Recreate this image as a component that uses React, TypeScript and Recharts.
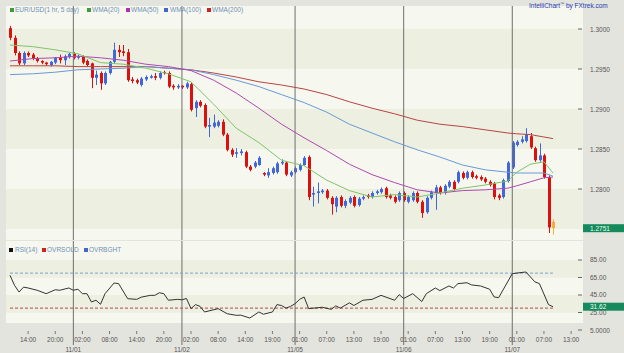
import {
  ComposedChart,
  Bar,
  Line,
  XAxis,
  YAxis,
  ReferenceLine,
  ReferenceArea,
} from 'recharts';

// hourly candles, 10/31 10:00 -> 11/07 10:00 (index = hour slot)
const opens = [
  1.3001, 1.2989, 1.2970, 1.2957, 1.2970, 1.2968, 1.2963, 1.2960, 1.2958, 1.2955,
  1.2958, 1.2964, 1.2961, 1.2965, 1.2969, 1.2964, 1.2966, 1.2960, 1.2957, 1.2939,
  1.2945, 1.2932, 1.2945, 1.2959, 1.2974, 1.2972, 1.2971, 1.2937, 1.2936, 1.2930,
  1.2937, 1.2939, 1.2941, 1.2939, 1.2946, 1.2945, 1.2929, 1.2927, 1.2929, 1.2927,
  1.2931, 1.2901, 1.2909, 1.2905, 1.2878, 1.2878, 1.2879, 1.2884, 1.2868, 1.2849,
  1.2844, 1.2845, 1.2846, 1.2828, 1.2828, 1.2830, 1.2820, 1.2817, 1.2820, 1.2821,
  1.2832, 1.2833, 1.2817, 1.2821, 1.2824, 1.2830, 1.2840, 1.2793, 1.2795, 1.2796,
  1.2798, 1.2789, 1.2778, 1.2790, 1.2779, 1.2783, 1.2790, 1.2780, 1.2788, 1.2792,
  1.2790, 1.2795, 1.2796, 1.2801, 1.2792, 1.2790, 1.2786, 1.2795, 1.2784, 1.2786,
  1.2795, 1.2784, 1.2771, 1.2789, 1.2795, 1.2802, 1.2795, 1.2803, 1.2809, 1.2809,
  1.2820, 1.2814, 1.2821, 1.2816, 1.2815, 1.2813, 1.2809, 1.2807, 1.2792, 1.2790,
  1.2810, 1.2827, 1.2855, 1.2859, 1.2860, 1.2866, 1.2851, 1.2836, 1.2842, 1.2815,
  1.2759,
];
const highs = [
  1.3004, 1.2992, 1.2972, 1.2972, 1.2972, 1.2970, 1.2965, 1.2961, 1.2959, 1.2960,
  1.2965, 1.2968, 1.2968, 1.2970, 1.2971, 1.2968, 1.2967, 1.2962, 1.2958, 1.2948,
  1.2947, 1.2947, 1.2960, 1.2983, 1.2980, 1.2980, 1.2975, 1.2940, 1.2938, 1.2940,
  1.2942, 1.2943, 1.2945, 1.2947, 1.2948, 1.2947, 1.2931, 1.2931, 1.2930, 1.2934,
  1.2933, 1.2911, 1.2911, 1.2907, 1.2889, 1.2893, 1.2886, 1.2887, 1.2870, 1.2851,
  1.2851, 1.2850, 1.2848, 1.2830, 1.2835, 1.2841, 1.2821, 1.2826, 1.2828, 1.2834,
  1.2837, 1.2835, 1.2823, 1.2828, 1.2832, 1.2841, 1.2842, 1.2803, 1.2808, 1.2800,
  1.2800, 1.2791, 1.2791, 1.2792, 1.2787, 1.2791, 1.2792, 1.2790, 1.2792, 1.2794,
  1.2797, 1.2799, 1.2802, 1.2803, 1.2794, 1.2792, 1.2797, 1.2797, 1.2792, 1.2797,
  1.2797, 1.2786, 1.2791, 1.2798, 1.2805, 1.2804, 1.2806, 1.2811, 1.2811, 1.2823,
  1.2822, 1.2823, 1.2823, 1.2818, 1.2817, 1.2815, 1.2811, 1.2809, 1.2794, 1.2813,
  1.2835, 1.2860, 1.2861, 1.2866, 1.2876, 1.2870, 1.2853, 1.2857, 1.2844, 1.2817,
  1.2762,
];
const lows = [
  1.2986, 1.2967, 1.2955, 1.2955, 1.2965, 1.2961, 1.2958, 1.2956, 1.2954, 1.2953,
  1.2956, 1.2957, 1.2955, 1.2963, 1.2962, 1.2962, 1.2956, 1.2953, 1.2926, 1.2930,
  1.2924, 1.2930, 1.2943, 1.2957, 1.2965, 1.2966, 1.2934, 1.2932, 1.2931, 1.2928,
  1.2935, 1.2938, 1.2936, 1.2937, 1.2943, 1.2926, 1.2924, 1.2925, 1.2925, 1.2925,
  1.2897, 1.2890, 1.2902, 1.2876, 1.2865, 1.2876, 1.2877, 1.2866, 1.2847, 1.2840,
  1.2839, 1.2842, 1.2826, 1.2822, 1.2826, 1.2829, 1.2816, 1.2814, 1.2818, 1.2819,
  1.2830, 1.2816, 1.2815, 1.2819, 1.2822, 1.2829, 1.2786, 1.2778, 1.2782, 1.2794,
  1.2787, 1.2768, 1.2771, 1.2777, 1.2776, 1.2781, 1.2777, 1.2778, 1.2786, 1.2788,
  1.2788, 1.2793, 1.2794, 1.2788, 1.2787, 1.2782, 1.2784, 1.2784, 1.2782, 1.2784,
  1.2782, 1.2764, 1.2769, 1.2787, 1.2774, 1.2793, 1.2793, 1.2801, 1.2798, 1.2807,
  1.2812, 1.2812, 1.2813, 1.2812, 1.2810, 1.2807, 1.2803, 1.2787, 1.2786, 1.2788,
  1.2808, 1.2825, 1.2853, 1.2857, 1.2858, 1.2850, 1.2834, 1.2834, 1.2813, 1.2745,
  1.2743,
];
const closes = [
  1.2989, 1.2970, 1.2957, 1.2970, 1.2967, 1.2963, 1.2960, 1.2958, 1.2956, 1.2959,
  1.2964, 1.2961, 1.2966, 1.2969, 1.2964, 1.2966, 1.2958, 1.2955, 1.2939, 1.2943,
  1.2932, 1.2945, 1.2959, 1.2974, 1.2971, 1.2970, 1.2936, 1.2935, 1.2933, 1.2938,
  1.2940, 1.2941, 1.2939, 1.2945, 1.2945, 1.2928, 1.2927, 1.2929, 1.2927, 1.2932,
  1.2899, 1.2909, 1.2904, 1.2878, 1.2880, 1.2883, 1.2884, 1.2868, 1.2849, 1.2843,
  1.2846, 1.2847, 1.2828, 1.2824, 1.2833, 1.2839, 1.2818, 1.2821, 1.2826, 1.2832,
  1.2834, 1.2818, 1.2821, 1.2826, 1.2830, 1.2839, 1.2790, 1.2795, 1.2797, 1.2798,
  1.2789, 1.2781, 1.2789, 1.2779, 1.2785, 1.2789, 1.2779, 1.2788, 1.2790, 1.2790,
  1.2795, 1.2797, 1.2800, 1.2790, 1.2789, 1.2784, 1.2795, 1.2786, 1.2790, 1.2795,
  1.2784, 1.2770, 1.2789, 1.2796, 1.2802, 1.2795, 1.2804, 1.2809, 1.2800, 1.2821,
  1.2814, 1.2821, 1.2815, 1.2814, 1.2812, 1.2809, 1.2805, 1.2790, 1.2789, 1.2811,
  1.2833, 1.2858, 1.2859, 1.2862, 1.2868, 1.2852, 1.2836, 1.2842, 1.2815, 1.2752,
  1.2751,
];

// moving averages at these candle slots
const wmaIdx = [0, 5, 10, 15, 20, 25, 30, 35, 40, 45, 50, 55, 60, 65, 70, 75, 80, 85, 90, 95, 100, 105, 110, 112, 115, 118, 120];
const wma20 = [1.2980, 1.2978, 1.2974, 1.2969, 1.2958, 1.2956, 1.2951, 1.2944, 1.2934, 1.2906, 1.2876, 1.2858, 1.2836, 1.2829, 1.2811, 1.2798, 1.2790, 1.2793, 1.2790, 1.2795, 1.2801, 1.2805, 1.2810, 1.2821, 1.2831, 1.2834, 1.2820];
const wma50 = [1.2960, 1.2963, 1.2964, 1.2966, 1.2964, 1.2961, 1.2956, 1.2953, 1.2948, 1.2936, 1.2920, 1.2901, 1.2881, 1.2864, 1.2848, 1.2831, 1.2818, 1.2808, 1.2799, 1.2795, 1.2798, 1.2799, 1.2801, 1.2804, 1.2809, 1.2814, 1.2815];
const wma100 = [1.2943, 1.2944, 1.2946, 1.2949, 1.2950, 1.2951, 1.2953, 1.2951, 1.2949, 1.2943, 1.2936, 1.2928, 1.2918, 1.2908, 1.2896, 1.2881, 1.2870, 1.2859, 1.2849, 1.2840, 1.2830, 1.2824, 1.2821, 1.2820, 1.2820, 1.2820, 1.2816];
const wma200 = [1.2954, 1.2954, 1.2954, 1.2953, 1.2953, 1.2953, 1.2953, 1.2951, 1.2949, 1.2945, 1.2940, 1.2934, 1.2930, 1.2925, 1.2918, 1.2909, 1.2901, 1.2894, 1.2886, 1.2881, 1.2878, 1.2874, 1.2870, 1.2869, 1.2868, 1.2865, 1.2863];

const rsiIdx = [0, 1, 2, 3, 4, 6, 8, 10, 11, 13, 14, 15, 16, 17, 18, 19, 20, 21, 23, 24, 26, 28, 29, 31, 32, 33, 34, 35, 37, 38, 39, 40, 41, 42, 43, 46, 48, 50, 51, 53, 55, 56, 58, 59, 60, 61, 62, 63, 64, 65, 66, 69, 71, 72, 73, 75, 76, 78, 80, 82, 85, 86, 87, 89, 91, 92, 94, 95, 97, 98, 99, 101, 102, 104, 106, 107, 108, 111, 114, 116, 117, 119, 120];
const rsiVals = [67.5, 56, 48.4, 54, 53, 50.4, 46.5, 51, 50.4, 53, 50.4, 51.6, 46.5, 46.5, 37, 39, 34.4, 46.5, 58.7, 58, 40.8, 40, 42.5, 44.6, 44.6, 47.6, 46.5, 39, 40, 39.5, 41, 29.4, 34, 32, 25.6, 29.4, 23.6, 21.8, 22, 18.7, 25.6, 23, 25.6, 34, 33, 30, 32, 35, 40, 42.7, 29.4, 31, 28.6, 32.6, 30, 36, 33, 39, 40, 44.6, 39, 45.4, 41, 46.5, 37.5, 46.5, 53, 50, 55.3, 53, 58, 59, 56.5, 55.3, 51.6, 42.7, 42, 69.4, 71.3, 60, 58, 34, 31.62];
const overbought = 70;
const oversold = 30;

const timeTicks = [4, 10, 16, 22, 28, 34, 40, 46, 52, 58, 64, 70, 76, 82, 88, 94, 100, 106, 112, 118, 124];
const timeLabels = ['14:00', '20:00', '02:00', '08:00', '14:00', '20:00', '02:00', '08:00', '14:00', '19:00', '01:00', '07:00', '13:00', '19:00', '01:00', '07:00', '13:00', '19:00', '01:00', '07:00', '13:00'];
const dayTicks = [14, 38, 63, 87, 111];
const dayLabels = ['11/01', '11/02', '11/05', '11/06', '11/07'];

const priceTicks = [1.2800, 1.2850, 1.2900, 1.2950, 1.3000];
const rsiTicks = [5, 25, 45, 65, 85];
const lastPrice = 1.2751;
const lastRsi = 31.62;

const data: any[] = opens.map((o, i) => ({
  i,
  o,
  h: highs[i],
  l: lows[i],
  c: closes[i],
  range: [lows[i], highs[i]],
}));
wmaIdx.forEach((k, j) => {
  data[k].w20 = wma20[j];
  data[k].w50 = wma50[j];
  data[k].w100 = wma100[j];
  data[k].w200 = wma200[j];
});
rsiIdx.forEach((k, j) => {
  data[k].rsi = rsiVals[j];
});
const lastIdx = data.length - 1;
data[0].ob = overbought;
data[lastIdx].ob = overbought;
data[0].os = oversold;
data[lastIdx].os = oversold;

const FONT = '"Liberation Sans", Arial, sans-serif';
const X_DOMAIN = [-0.884, 126.63];
const BAND_DARK = '#edf0e1';
const BAND_LIGHT = '#f6f8ef';
const TAG = '#168a5c';

const Candle = (props: any) => {
  const { x, y, width, height, payload } = props;
  if (x == null || !payload) return null;
  const top = Math.min(y, y + height);
  const hh = Math.abs(height);
  const { o, h, l, c, i } = payload;
  const py = (p: number) => top + ((h - p) / (h - l || 1)) * hh;
  const color = i === lastIdx ? '#f2b038' : c >= o ? '#4068dc' : '#dd1010';
  const cx = Math.round(x + width / 2) + 0.5;
  const bTop = py(Math.max(o, c));
  const bBot = py(Math.min(o, c));
  return (
    <g>
      <line x1={cx} x2={cx} y1={top} y2={top + hh} stroke={color} strokeWidth={1} />
      <rect x={cx - 1.5} y={bTop} width={3} height={Math.max(1, bBot - bTop)} fill={color} />
    </g>
  );
};

const AxisTick = (props: any) => {
  const { x, y, payload, tag, digits } = props;
  const v = payload.value;
  if (v === tag) {
    return (
      <g>
        <rect x={x} y={y - 4} width={41} height={8} fill={TAG} />
        <text x={x + 7} y={y + 2.5} fontSize={6.5} fill="#e6fff0" fontFamily={FONT}>
          {v.toFixed(digits)}
        </text>
      </g>
    );
  }
  const label = v === 5 ? '5.0000' : v.toFixed(digits);
  return (
    <g>
      <line x1={x - 5} x2={x - 1} y1={y} y2={y} stroke="#666" />
      <text x={x + 7} y={y + 2.5} fontSize={6.5} fill="#555" fontFamily={FONT}>
        {label}
      </text>
    </g>
  );
};

const TimeTick = (props: any) => {
  const { x, y, payload } = props;
  const d = dayTicks.indexOf(payload.value);
  if (d >= 0) {
    return (
      <g>
        <line x1={x} x2={x} y1={y} y2={y + 15} stroke="#6e6e6e" />
        <text x={x} y={y + 22} textAnchor="middle" fontSize={6.5} fill="#555" fontFamily={FONT}>
          {dayLabels[d]}
        </text>
      </g>
    );
  }
  const t = timeTicks.indexOf(payload.value);
  return (
    <g>
      <line x1={x} x2={x} y1={y + 1} y2={y + 4} stroke="#777" />
      <text x={x} y={y + 12} textAnchor="middle" fontSize={6.5} fill="#555" fontFamily={FONT}>
        {timeLabels[t]}
      </text>
    </g>
  );
};

const legendText = { position: 'absolute' as const, fontSize: 6.5, color: '#7090b8', lineHeight: '8px', whiteSpace: 'nowrap' as const };
const sq = (left: number, top: number, color: string) => (
  <div style={{ position: 'absolute', left, top, width: 4, height: 4, background: color }} />
);

export default function App() {
  return (
    <div style={{ position: 'absolute', left: 0, top: 0, width: 624, height: 353, background: '#e4e4de', fontFamily: FONT, overflow: 'hidden' }}>
      <div style={{ position: 'absolute', left: 0, top: 0 }}>
        <ComposedChart width={624} height={241} data={data} margin={{ top: 6, right: 0, bottom: 1, left: 6 }}>
          <ReferenceArea y1={1.3} y2={1.302875} fill={BAND_LIGHT} fillOpacity={1} stroke="none" />
          <ReferenceArea y1={1.295} y2={1.3} fill={BAND_DARK} fillOpacity={1} stroke="none" />
          <ReferenceArea y1={1.29} y2={1.295} fill={BAND_LIGHT} fillOpacity={1} stroke="none" />
          <ReferenceArea y1={1.285} y2={1.29} fill={BAND_DARK} fillOpacity={1} stroke="none" />
          <ReferenceArea y1={1.28} y2={1.285} fill={BAND_LIGHT} fillOpacity={1} stroke="none" />
          <ReferenceArea y1={1.275} y2={1.28} fill={BAND_DARK} fillOpacity={1} stroke="none" />
          <ReferenceArea y1={1.273625} y2={1.275} fill={BAND_LIGHT} fillOpacity={1} stroke="none" />
          <XAxis type="number" dataKey="i" domain={X_DOMAIN} hide allowDataOverflow />
          <YAxis
            orientation="right"
            width={41}
            domain={[1.273625, 1.302875]}
            ticks={[lastPrice, ...priceTicks]}
            interval={0}
            allowDataOverflow
            axisLine={false}
            tickSize={0}
            tickMargin={0}
            tick={<AxisTick tag={lastPrice} digits={4} />}
          />
          {dayTicks.map((d) => (
            <ReferenceLine key={d} x={d} stroke="#6e6e6e" />
          ))}
          <Line dataKey="w200" stroke="#b84444" dot={false} connectNulls strokeWidth={1} isAnimationActive={false} />
          <Line dataKey="w100" stroke="#6a98d8" dot={false} connectNulls strokeWidth={1} isAnimationActive={false} />
          <Line dataKey="w50" stroke="#b048b0" dot={false} connectNulls strokeWidth={1} isAnimationActive={false} />
          <Line dataKey="w20" stroke="#80c46a" dot={false} connectNulls strokeWidth={1} isAnimationActive={false} />
          <Bar dataKey="range" barSize={3} shape={<Candle />} isAnimationActive={false} />
        </ComposedChart>
      </div>

      <div style={{ position: 'absolute', left: 0, top: 241 }}>
        <ComposedChart width={624} height={112} data={data} margin={{ top: 0, right: 0, bottom: 0, left: 6 }}>
          <ReferenceArea y1={85} y2={106.7} fill={BAND_LIGHT} fillOpacity={1} stroke="none" />
          <ReferenceArea y1={65} y2={85} fill={BAND_DARK} fillOpacity={1} stroke="none" />
          <ReferenceArea y1={45} y2={65} fill={BAND_LIGHT} fillOpacity={1} stroke="none" />
          <ReferenceArea y1={25} y2={45} fill={BAND_DARK} fillOpacity={1} stroke="none" />
          <ReferenceArea y1={13} y2={25} fill={BAND_LIGHT} fillOpacity={1} stroke="none" />
          <ReferenceArea y1={5} y2={13} fill="#e4e4de" fillOpacity={1} stroke="none" />
          <XAxis
            type="number"
            dataKey="i"
            domain={X_DOMAIN}
            allowDataOverflow
            height={23}
            ticks={[...timeTicks, ...dayTicks].sort((a, b) => a - b)}
            interval={0}
            axisLine={false}
            tickSize={0}
            tickMargin={0}
            tick={<TimeTick />}
          />
          <YAxis
            orientation="right"
            width={41}
            domain={[5, 106.7]}
            ticks={[lastRsi, ...rsiTicks].sort((a, b) => a - b)}
            interval={0}
            allowDataOverflow
            axisLine={false}
            tickSize={0}
            tickMargin={0}
            tick={<AxisTick tag={lastRsi} digits={2} />}
          />
          {dayTicks.map((d) => (
            <ReferenceLine key={d} x={d} stroke="#6e6e6e" />
          ))}
          <Line dataKey="ob" stroke="#7d9fd4" strokeDasharray="3 2" dot={false} connectNulls isAnimationActive={false} />
          <Line dataKey="os" stroke="#b04c4c" strokeDasharray="3 2" dot={false} connectNulls isAnimationActive={false} />
          <Line dataKey="rsi" stroke="#333" dot={false} connectNulls strokeWidth={1} isAnimationActive={false} />
        </ComposedChart>
      </div>

      {/* price legend */}
      {sq(10, 8, '#3c9c3c')}
      <div style={{ ...legendText, left: 15, top: 6 }}>EUR/USD(1 hr, 5 day)</div>
      {sq(87, 8, '#3c9c3c')}
      <div style={{ ...legendText, left: 92, top: 6 }}>WMA(20)</div>
      {sq(126, 8, '#aa33aa')}
      <div style={{ ...legendText, left: 131, top: 6 }}>WMA(50)</div>
      {sq(164, 8, '#4466cc')}
      <div style={{ ...legendText, left: 170, top: 6 }}>WMA(100)</div>
      {sq(207, 8, '#cc2222')}
      <div style={{ ...legendText, left: 212, top: 6 }}>WMA(200)</div>

      {/* RSI legend */}
      {sq(9, 248, '#111')}
      <div style={{ ...legendText, left: 15, top: 246 }}>RSI(14)</div>
      {sq(42, 248, '#cc2222')}
      <div style={{ ...legendText, left: 47, top: 246 }}>OVRSOLD</div>
      {sq(84, 248, '#4466cc')}
      <div style={{ ...legendText, left: 89, top: 246 }}>OVRBGHT</div>

      <div style={{ position: 'absolute', left: 529, top: 0, fontSize: 6.5, color: '#2838b0', lineHeight: '8px', whiteSpace: 'nowrap' }}>
        IntelliChart<sup style={{ fontSize: 4 }}>™</sup> by FXtrek.com
      </div>
    </div>
  );
}
